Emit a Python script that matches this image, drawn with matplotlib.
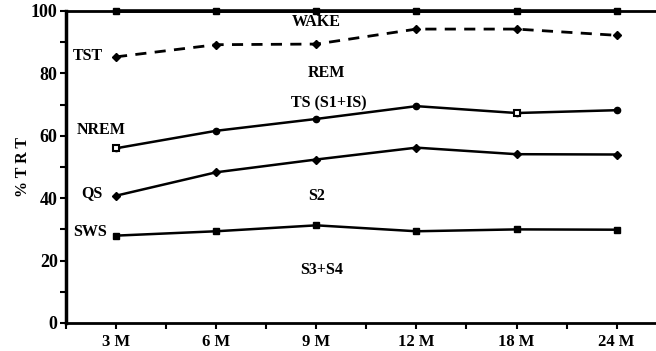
import matplotlib.pyplot as plt
import numpy as np

ages = ['3 M', '6 M', '9 M', '12 M', '18 M', '24 M']
wake = [100, 100, 100, 100, 100, 100]
tst = [85.3, 89.2, 89.4, 94.2, 94.2, 92.2]
nrem = [56.0, 61.6, 65.4, 69.5, 67.3, 68.2]
qs = [40.8, 48.3, 52.4, 56.2, 54.1, 54.0]
sws = [28.0, 29.4, 31.3, 29.4, 30.0, 29.9]

plt.rcParams['font.family'] = ['Liberation Serif', 'DejaVu Serif']
plt.rcParams['font.weight'] = 'bold'

fig = plt.figure(figsize=(6.56, 3.51), dpi=100)
ax = fig.add_axes([0.1006, 0.0798, 0.905, 0.8889])
x = np.arange(len(ages))

ax.plot(x, wake, color='black', lw=2.6, marker='s', ms=4.5, clip_on=False, zorder=5)
ax.plot(x, tst, color='black', lw=2.0, ls=(0, (4, 3)), marker='D', ms=4.5)
ax.plot(x, nrem, color='black', lw=1.8, marker='o', ms=4.5)
ax.plot(x[[0, 4]], np.array(nrem)[[0, 4]], ls='none', marker='s', ms=5,
        mfc='white', mec='black', mew=1.5, zorder=6)
ax.plot(x, qs, color='black', lw=1.8, marker='D', ms=4)
ax.plot(x, sws, color='black', lw=1.8, marker='s', ms=4.5)

lab = dict(fontsize=11.5, fontweight='bold', va='center')
ax.text(2.0, 96.4, 'WAKE', ha='center', **lab)
ax.text(-0.13, 85.5, 'TST', ha='right', **lab)
ax.text(2.1, 80.0, 'REM', ha='center', **lab)
ax.text(0.1, 62.0, 'NREM', ha='right', **lab)
ax.text(2.13, 70.5, 'TS (S1+IS)', ha='center', **lab)
ax.text(-0.14, 41.7, 'QS', ha='right', **lab)
ax.text(2.0, 40.7, 'S2', ha='center', **lab)
ax.text(-0.09, 29.2, 'SWS', ha='right', **lab)
ax.text(2.05, 17.0, 'S3+S4', ha='center', **lab)

ax.set_xlim(-0.5, 5.43)
ax.set_ylim(0, 100)
ax.set_xticks(x)
ax.set_xticklabels(ages, fontsize=12, fontweight='bold')
ax.set_xticks(np.arange(-0.5, 5.5, 0.5), minor=True)
ax.set_yticks([0, 20, 40, 60, 80, 100])
ax.set_yticklabels(['0', '20', '40', '60', '80', '100'], fontsize=13, fontweight='bold')
ax.set_yticks(np.arange(10, 100, 20), minor=True)
ax.tick_params(axis='both', which='both', direction='out', width=1.5, length=4, pad=2)
ax.tick_params(axis='x', which='major', pad=4)

ax.spines['right'].set_visible(False)
ax.spines['left'].set_linewidth(2.5)
ax.spines['bottom'].set_linewidth(2.0)
ax.spines['top'].set_linewidth(2.0)

ax.set_ylabel('% T R T', fontsize=11.5, fontweight='bold', labelpad=0)

fig.savefig('out.png', dpi=100)
